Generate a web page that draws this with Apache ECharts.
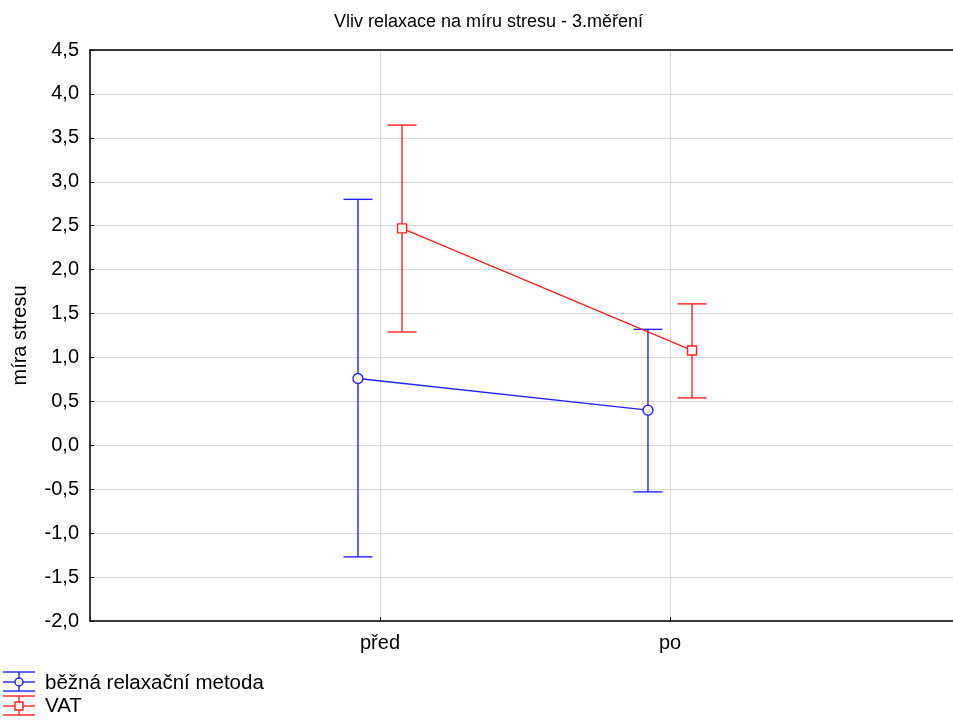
<!DOCTYPE html>
<html>
<head>
<meta charset="utf-8">
<script src="https://cdn.jsdelivr.net/npm/echarts@6/dist/echarts.min.js"></script>
<style>html,body{margin:0;padding:0;background:#fff;}#c{width:953px;height:720px;}</style>
</head>
<body>
<div id="c"></div>
<script>
// Stress level by measurement time, two relaxation methods (mean with interval)
const categories = ['před', 'po'];
const seriesNames = ['běžná relaxační metoda', 'VAT'];
const meanStandard = [0.76, 0.40];
const lowStandard = [-1.27, -0.53];
const highStandard = [2.80, 1.32];
const meanVat = [2.47, 1.08];
const lowVat = [1.29, 0.54];
const highVat = [3.645, 1.61];
const yTicks = { min: -2, max: 4.5, step: 0.5 };

const BLUE = '#2424ff';
const RED = '#ff2020';
const FONT = 'Liberation Sans, Arial, sans-serif';
const shift = 0.076; // horizontal offset of each group around its category

function pts(means, dx) { return means.map((v, i) => [i + 1 + dx, v]); }
function bars(lows, highs, dx) { return lows.map((l, i) => [i + 1 + dx, l, highs[i]]); }

function errorBar(color) {
  return function (params, api) {
    const x = api.value(0);
    const lo = api.coord([x, api.value(1)]);
    const hi = api.coord([x, api.value(2)]);
    const w = 14.5;
    const st = { stroke: color, lineWidth: 1.4 };
    return {
      type: 'group',
      children: [
        { type: 'line', shape: { x1: lo[0], y1: lo[1], x2: hi[0], y2: hi[1] }, style: st },
        { type: 'line', shape: { x1: hi[0] - w, y1: hi[1], x2: hi[0] + w, y2: hi[1] }, style: st },
        { type: 'line', shape: { x1: lo[0] - w, y1: lo[1], x2: lo[0] + w, y2: lo[1] }, style: st }
      ]
    };
  };
}

function legendIcon(y, color, circle) {
  const st = { stroke: color, lineWidth: 1.4, fill: null };
  const kids = [
    { type: 'line', shape: { x1: 3, y1: y - 10, x2: 35, y2: y - 10 }, style: st },
    { type: 'line', shape: { x1: 3, y1: y, x2: 35, y2: y }, style: st },
    { type: 'line', shape: { x1: 3, y1: y + 9, x2: 35, y2: y + 9 }, style: st },
    { type: 'line', shape: { x1: 19, y1: y - 10, x2: 19, y2: y + 9 }, style: st }
  ];
  kids.push(circle
    ? { type: 'circle', shape: { cx: 19, cy: y, r: 4 }, style: { stroke: color, lineWidth: 1.4, fill: '#fff' } }
    : { type: 'rect', shape: { x: 15, y: y - 4, width: 8, height: 8 }, style: { stroke: color, lineWidth: 1.4, fill: '#fff' } });
  return kids;
}

const chart = echarts.init(document.getElementById('c'), null, { renderer: 'canvas' });
chart.setOption({
  backgroundColor: '#fff',
  animation: false,
  title: {
    text: 'Vliv relaxace na míru stresu - 3.měření',
    left: 329, top: 8,
    textStyle: { fontFamily: FONT, fontSize: 18, fontWeight: 'normal', color: '#000' }
  },
  // plot frame runs past the right edge of the canvas
  grid: { left: 90, top: 50, height: 571, width: 870, containLabel: false, outerBoundsMode: 'none' },
  xAxis: [{
    type: 'value', min: 0, max: 3, interval: 1,
    axisLine: { show: true, onZero: false, lineStyle: { color: '#000', width: 1.5 } },
    axisTick: { show: true, inside: true, length: 4, lineStyle: { color: '#000' } },
    axisLabel: {
      fontFamily: FONT, fontSize: 20, color: '#000', margin: 12,
      formatter: v => (v >= 1 && v <= categories.length ? categories[v - 1] : '')
    },
    splitLine: { show: true, lineStyle: { color: '#d9d9d9', width: 1 } }
  }, {
    type: 'value', position: 'top', min: 0, max: 3,
    axisLine: { show: true, onZero: false, lineStyle: { color: '#000', width: 1.5 } },
    axisTick: { show: false }, axisLabel: { show: false }, splitLine: { show: false }
  }],
  yAxis: {
    type: 'value', min: yTicks.min, max: yTicks.max, interval: yTicks.step,
    name: 'míra stresu', nameLocation: 'middle', nameGap: 60, nameRotate: 90,
    nameTextStyle: { fontFamily: FONT, fontSize: 20, color: '#000' },
    axisLine: { show: true, onZero: false, lineStyle: { color: '#000', width: 1.5 } },
    axisTick: { show: true, inside: true, length: 4, lineStyle: { color: '#000' } },
    axisLabel: {
      fontFamily: FONT, fontSize: 20, color: '#000', margin: 11,
      formatter: v => v.toFixed(1).replace('.', ',')
    },
    splitLine: { show: true, lineStyle: { color: '#d9d9d9', width: 1 } }
  },
  series: [
    {
      name: seriesNames[0] + ' interval', type: 'custom', renderItem: errorBar(BLUE),
      data: bars(lowStandard, highStandard, -shift), encode: { x: 0, y: [1, 2] }, z: 3
    },
    {
      name: seriesNames[1] + ' interval', type: 'custom', renderItem: errorBar(RED),
      data: bars(lowVat, highVat, shift), encode: { x: 0, y: [1, 2] }, z: 3
    },
    {
      name: seriesNames[0], type: 'line', data: pts(meanStandard, -shift),
      symbol: 'circle', symbolSize: 10, showAllSymbol: true,
      lineStyle: { color: BLUE, width: 1.4 },
      itemStyle: { color: '#fff', borderColor: BLUE, borderWidth: 1.4 }, z: 4
    },
    {
      name: seriesNames[1], type: 'line', data: pts(meanVat, shift),
      symbol: 'rect', symbolSize: 9, showAllSymbol: true,
      lineStyle: { color: RED, width: 1.4 },
      itemStyle: { color: '#fff', borderColor: RED, borderWidth: 1.4 }, z: 4
    }
  ],
  graphic: [
    { type: 'group', children: legendIcon(682, BLUE, true) },
    { type: 'group', children: legendIcon(706, RED, false) },
    { type: 'text', left: 45, top: 673, style: { text: seriesNames[0], font: '20.5px ' + FONT, fill: '#000' } },
    { type: 'text', left: 45, top: 696, style: { text: seriesNames[1], font: '20.5px ' + FONT, fill: '#000' } }
  ]
});
</script>
</body>
</html>
